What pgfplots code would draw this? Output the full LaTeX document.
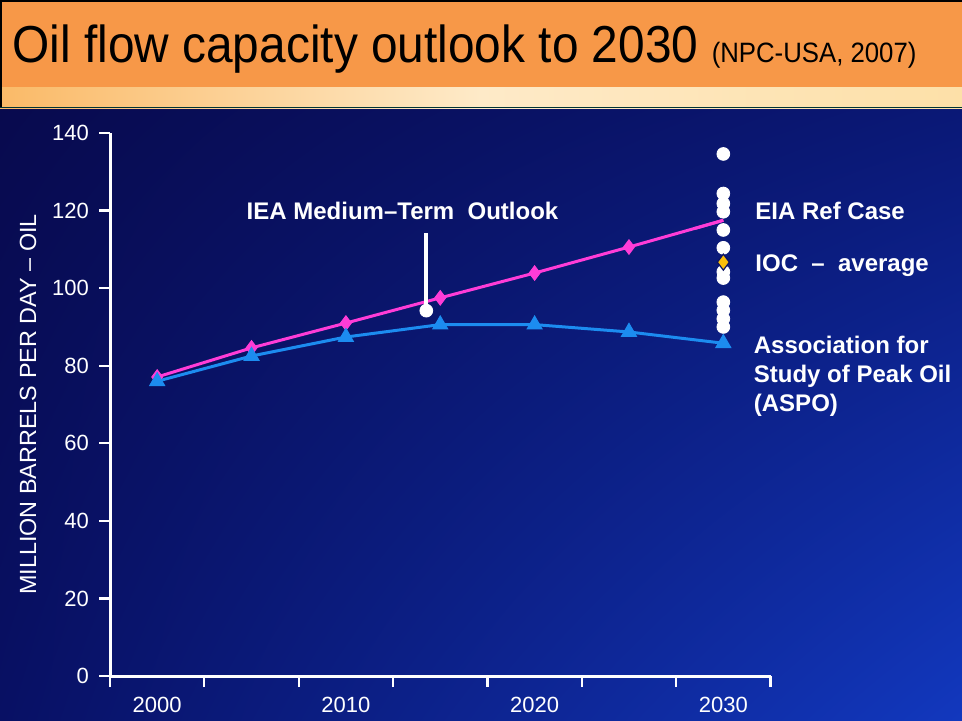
\documentclass[border=0pt]{standalone}
\usepackage{fontspec}
\setmainfont{Liberation Sans}
\usepackage{pgfplots}
\pgfplotsset{compat=1.18}
\usetikzlibrary{shadings}
\definecolor{bgUL}{RGB}{8,10,78}
\definecolor{bgUR}{RGB}{10,24,118}
\definecolor{bgLL}{RGB}{8,16,100}
\definecolor{bgLR}{RGB}{18,56,190}
\definecolor{titleorange}{RGB}{247,152,72}
\definecolor{stripL}{RGB}{250,186,104}
\definecolor{stripM}{RGB}{254,234,200}
\definecolor{stripR}{RGB}{253,224,168}
\definecolor{eiapink}{RGB}{255,60,215}
\definecolor{aspoblue}{RGB}{28,140,240}
\definecolor{iocgold}{RGB}{250,190,10}
\definecolor{navy}{RGB}{10,18,100}
\begin{document}
\begin{tikzpicture}[x=0.5pt,y=0.5pt]
\useasboundingbox (0,0) rectangle (962,720);
\shade[upper left=bgUL, upper right=bgUR, lower left=bgLL, lower right=bgLR] (0,0) rectangle (962,612);
\fill[titleorange] (0,633) rectangle (962,720);
\shade[left color=stripL, right color=stripR, middle color=stripM] (0,612) rectangle (962,633);
\draw[black, line width=1.2pt] (1,612) -- (1,719) -- (962,719);
\draw[black!60!teal, line width=0.6pt] (0,612.5) -- (962,612.5);
\node[anchor=base west, inner sep=0pt] at (12,658)
  {\scalebox{0.92}[1]{\fontsize{26}{30}\selectfont Oil flow capacity outlook to 2030 \fontsize{14}{16}\selectfont (NPC-USA, 2007)}};
\begin{axis}[
  at={(55pt,22pt)}, anchor=south west,
  scale only axis, width=330.25pt, height=271.5pt,
  clip=false,
  axis x line*=bottom, axis y line*=left,
  axis line style={white, line width=1.5pt},
  xmin=1997.5, xmax=2032.5, ymin=0, ymax=140,
  xtick={1997.5,2002.5,2007.5,2012.5,2017.5,2022.5,2027.5,2032.5},
  xticklabels={},
  extra x ticks={2000,2010,2020,2030},
  extra x tick labels={2000,2010,2020,2030},
  extra x tick style={major tick length=0pt},
  ytick={0,20,...,140},
  tick align=outside, major tick length=5.5pt,
  tick style={white, line width=1.1pt},
  /pgf/number format/assume math mode=true,
  ticklabel style={white, font=\fontsize{11}{12}\selectfont},
  xticklabel style={yshift=-7pt},
  yticklabel style={xshift=-1.5pt},
  ylabel={MILLION BARRELS PER DAY -- OIL},
  ylabel style={white, font=\fontsize{11.7}{13}\selectfont, at={(axis description cs:-0.124,0.5)}, anchor=center},
]
% EIA reference case
\addplot[color=eiapink, line width=1.5pt, mark=diamond*, mark indices={1,2,3,4,5,6}, mark size=3.6pt, mark options={fill=eiapink, draw=eiapink, line width=0.5pt}] coordinates {
  (2000,77.1) (2005,84.6) (2010,91.0) (2015,97.5) (2020,103.9) (2025,110.6) (2030,117.5)};
% IOC individual projections (white dots)
\addplot[only marks, mark=*, mark size=3.2pt, mark options={fill=white, draw=white}] coordinates {
  (2030,134.6) (2030,124.4) (2030,121.8) (2030,119.7) (2030,115.0)
  (2030,110.4) (2030,104.2) (2030,102.6)
  (2030,96.4) (2030,94.3) (2030,92.1) (2030,90.0)};
% EIA line end drawn over the dots
\addplot[color=eiapink, line width=1.5pt, forget plot] coordinates {(2028.5,115.4) (2030,117.5)};
% ASPO
\addplot[color=aspoblue, line width=1.5pt, mark=triangle*, mark size=4.3pt, mark options={fill=aspoblue, draw=aspoblue, line width=0.5pt}] coordinates {
  (2000,76.0) (2005,82.5) (2010,87.4) (2015,90.6) (2020,90.6) (2025,88.7) (2030,85.8)};
% IOC average
\addplot[only marks, mark=diamond*, mark size=4pt, mark options={fill=iocgold, draw=navy, line width=0.6pt}] coordinates {(2030,106.7)};
% IEA medium-term outlook
\addplot[white, line width=2pt] coordinates {(2014.26,95.5) (2014.26,114.2)};
\addplot[only marks, mark=*, mark size=3.2pt, mark options={fill=white, draw=white}] coordinates {(2014.26,94.2)};
\node[white, font=\bfseries\fontsize{12}{14}\selectfont, inner sep=0pt, anchor=base] at (axis cs:2013.0,117.6) {IEA Medium–Term\ \ Outlook};
\node[white, font=\bfseries\fontsize{12}{14}\selectfont, inner sep=0pt, anchor=base west] at (axis cs:2031.68,117.8) {EIA Ref Case};
\node[white, font=\bfseries\fontsize{12}{14}\selectfont, inner sep=0pt, anchor=base west] at (axis cs:2031.68,104.4) {IOC\ \ –\ \ average};
\node[white, font=\bfseries\fontsize{12}{14.5}\selectfont, inner sep=0pt, anchor=west, align=left] at (axis cs:2031.6,77.3) {Association for\\Study of Peak Oil\\(ASPO)};
\end{axis}
\end{tikzpicture}
\end{document}
